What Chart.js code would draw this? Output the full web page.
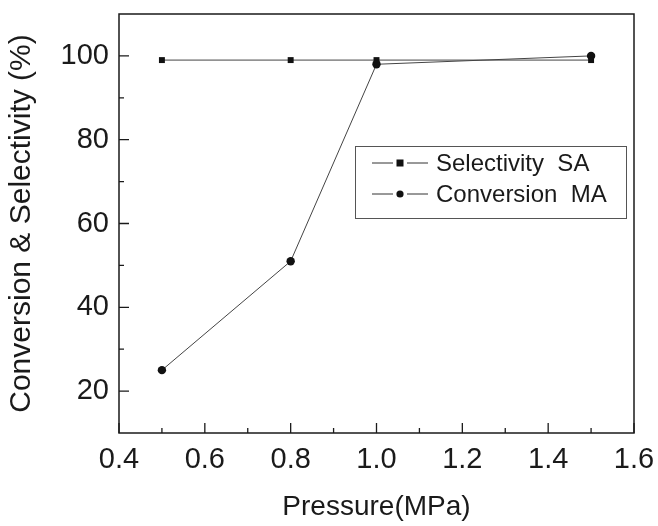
<!DOCTYPE html>
<html>
<head>
<meta charset="utf-8">
<script src="https://cdn.jsdelivr.net/npm/chart.js@4.4.1/dist/chart.umd.min.js"></script>
<style>
html,body{margin:0;padding:0;background:#fff;}
#wrap{width:658px;height:526px;position:relative;}
</style>
</head>
<body>
<div id="wrap"><canvas id="c" width="658" height="526"></canvas></div>
<script>
const pressure = [0.5, 0.8, 1.0, 1.5];
const selectivitySA = [99, 99, 99, 99];
const conversionMA = [25, 51, 98, 100];
const xTicks = [0.4, 0.6, 0.8, 1.0, 1.2, 1.4, 1.6];
const yTicks = [20, 40, 60, 80, 100];
const yMinorTicks = [30, 50, 70, 90];
const seriesNames = ['Selectivity  SA', 'Conversion  MA'];
const xTitle = 'Pressure(MPa)';
const yTitle = 'Conversion & Selectivity (%)';

const FONT = "'Liberation Sans', Arial, sans-serif";
const INK = '#1a1a1a';

const framePlugin = {
  id: 'frame',
  afterDraw(chart) {
    const ctx = chart.ctx;
    const a = chart.chartArea;
    const xs = chart.scales.x, ys = chart.scales.y;
    ctx.save();
    ctx.strokeStyle = INK;
    ctx.lineWidth = 1.5;
    ctx.strokeRect(a.left, a.top, a.right - a.left, a.bottom - a.top);
    ctx.lineWidth = 1.3;
    ctx.beginPath();
    for (let i = 0; i < xTicks.length; i++) {
      const px = xs.getPixelForValue(xTicks[i]);
      ctx.moveTo(px, a.bottom); ctx.lineTo(px, a.bottom - 10);
      if (i < xTicks.length - 1) {
        const mx = xs.getPixelForValue((xTicks[i] + xTicks[i + 1]) / 2);
        ctx.moveTo(mx, a.bottom); ctx.lineTo(mx, a.bottom - 5);
      }
    }
    yTicks.forEach(v => {
      const py = ys.getPixelForValue(v);
      ctx.moveTo(a.left, py); ctx.lineTo(a.left + 10, py);
    });
    yMinorTicks.forEach(v => {
      const py = ys.getPixelForValue(v);
      ctx.moveTo(a.left, py); ctx.lineTo(a.left + 5, py);
    });
    ctx.stroke();

    // legend
    const bx = 355, by = 146, bw = 271, bh = 72;
    ctx.lineWidth = 1;
    ctx.strokeStyle = '#555';
    ctx.strokeRect(bx + 0.5, by + 0.5, bw, bh);
    const rows = [163, 194];
    chart.data.datasets.forEach((ds, i) => {
      const y = rows[i];
      ctx.strokeStyle = '#333';
      ctx.lineWidth = 1;
      ctx.beginPath();
      ctx.moveTo(372, y); ctx.lineTo(393, y);
      ctx.moveTo(407, y); ctx.lineTo(428, y);
      ctx.stroke();
      ctx.fillStyle = '#111';
      if (ds.pointStyle === 'rect') {
        ctx.fillRect(396.5, y - 3.5, 7, 7);
      } else {
        ctx.beginPath(); ctx.arc(400, y, 3.6, 0, Math.PI * 2); ctx.fill();
      }
      ctx.fillStyle = INK;
      ctx.font = '24px ' + FONT;
      ctx.textBaseline = 'middle';
      ctx.textAlign = 'left';
      ctx.fillText(ds.label, 436, y + 1);
    });
    ctx.restore();
  }
};

new Chart(document.getElementById('c'), {
  type: 'line',
  data: {
    datasets: [
      {
        label: seriesNames[0],
        data: pressure.map((p, i) => ({ x: p, y: selectivitySA[i] })),
        borderColor: '#444', borderWidth: 1,
        pointStyle: 'rect', pointRadius: 4.2,
        pointBackgroundColor: '#111', pointBorderColor: '#111', pointBorderWidth: 0
      },
      {
        label: seriesNames[1],
        data: pressure.map((p, i) => ({ x: p, y: conversionMA[i] })),
        borderColor: '#444', borderWidth: 1,
        pointStyle: 'circle', pointRadius: 4.2,
        pointBackgroundColor: '#111', pointBorderColor: '#111', pointBorderWidth: 0
      }
    ]
  },
  options: {
    responsive: false,
    animation: false,
    layout: { padding: { left: 0, right: 24, top: 14, bottom: 0 } },
    plugins: { legend: { display: false }, tooltip: { enabled: false } },
    scales: {
      x: {
        type: 'linear', min: 0.4, max: 1.6,
        afterBuildTicks: s => { s.ticks = xTicks.map(v => ({ value: v })); },
        afterFit: s => { s.height = 93; s.paddingLeft = 0; s.paddingRight = 0; },
        grid: { display: false, drawTicks: false },
        border: { display: false },
        ticks: { color: INK, font: { family: FONT, size: 29 }, padding: 10,
                 callback: v => Number(v).toFixed(1), maxRotation: 0 },
        title: { display: true, text: xTitle, color: INK,
                 font: { family: FONT, size: 28 }, padding: { top: 4, bottom: 2 } }
      },
      y: {
        type: 'linear', min: 10, max: 110,
        afterBuildTicks: s => { s.ticks = yTicks.map(v => ({ value: v })); },
        afterFit: s => { s.width = 119; s.paddingTop = 0; s.paddingBottom = 0; },
        grid: { display: false, drawTicks: false },
        border: { display: false },
        ticks: { color: INK, font: { family: FONT, size: 29 }, padding: 10,
                 callback: v => String(v) },
        title: { display: true, text: yTitle, color: INK,
                 font: { family: FONT, size: 30 }, padding: { top: 4, bottom: 0 } }
      }
    }
  },
  plugins: [framePlugin]
});
</script>
</body>
</html>
